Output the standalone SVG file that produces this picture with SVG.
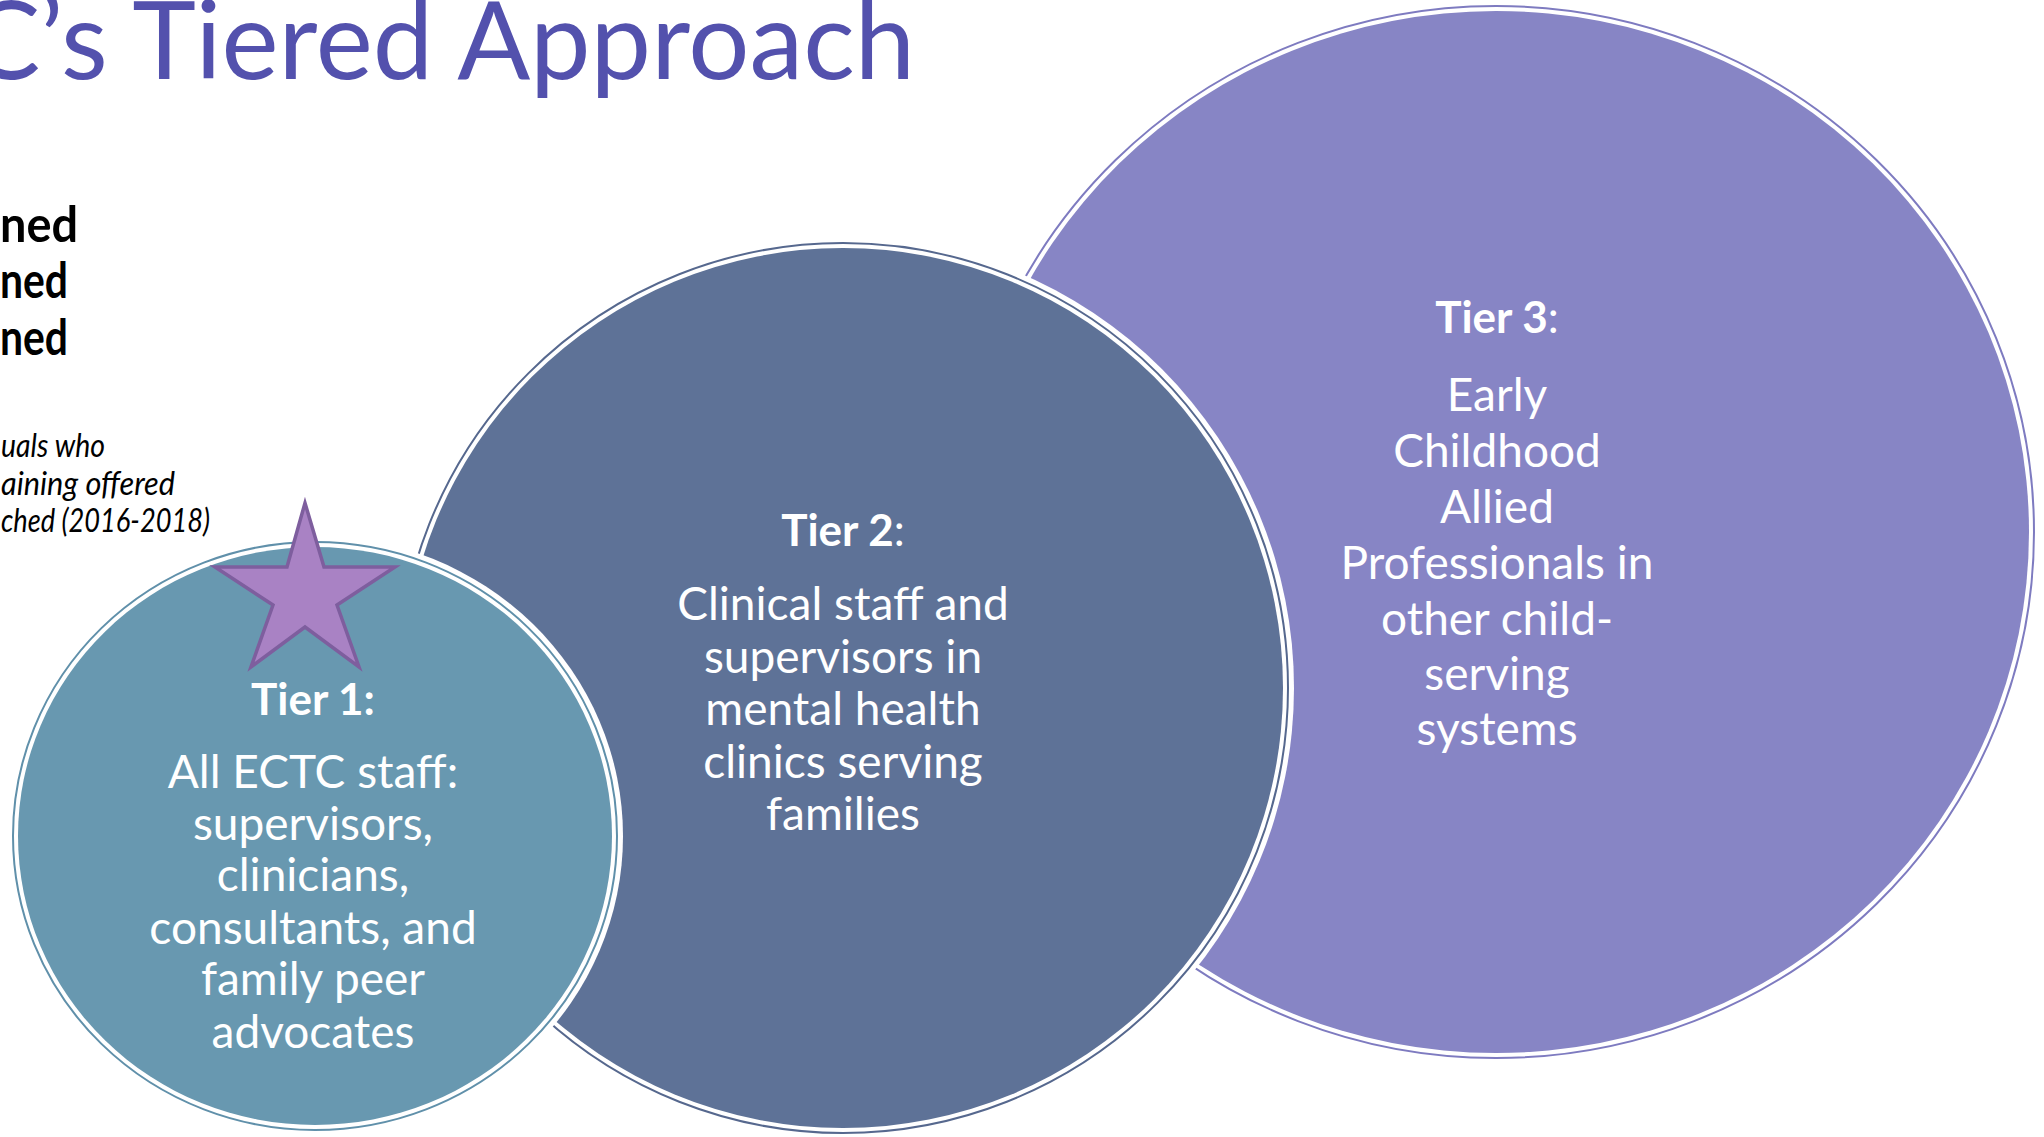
<svg xmlns="http://www.w3.org/2000/svg" width="2044" height="1137" viewBox="0 0 2044 1137">
  <style>
    .body { font-family: Lato, "Open Sans", sans-serif; font-size: 46px; fill: #ffffff; text-anchor: middle; }
    .lbl { font-family: Lato, "Open Sans", sans-serif; font-size: 44px; fill: #ffffff; text-anchor: middle; font-weight: bold; }
    .reg { font-weight: normal; }
    .halo { fill: #ffffff; }
    .title { font-family: Lato, "Open Sans", sans-serif; font-size: 108px; fill: #5351AD; text-anchor: end; }
    .side { font-family: Lato, "Open Sans", sans-serif; font-size: 50px; font-weight: bold; fill: #000000; }
    .note { font-family: Lato, "Open Sans", sans-serif; font-size: 33px; font-style: italic; fill: #000000; }
  </style>
  <rect width="2044" height="1137" fill="#ffffff"/>

  <text class="title" x="915" y="79">C’s Tiered Approach</text>

  <text class="side" x="0" y="242" textLength="78" lengthAdjust="spacingAndGlyphs">ned</text>
  <text class="side" x="0" y="298" textLength="68" lengthAdjust="spacingAndGlyphs">ned</text>
  <text class="side" x="0" y="355" textLength="68" lengthAdjust="spacingAndGlyphs">ned</text>

  <text class="note" x="1" y="457" textLength="104" lengthAdjust="spacingAndGlyphs">uals who</text>
  <text class="note" x="1" y="495" textLength="174" lengthAdjust="spacingAndGlyphs">aining offered</text>
  <text class="note" x="1" y="532" textLength="209" lengthAdjust="spacingAndGlyphs">ched (2016-2018)</text>

  <g id="tier3">
    <ellipse class="halo" cx="1496" cy="532" rx="544" ry="532"/>
    <ellipse cx="1496" cy="532" rx="538" ry="526" fill="none" stroke="#7E7BC0" stroke-width="2"/>
    <ellipse cx="1496" cy="532" rx="533" ry="521" fill="#8785C5"/>
    <text class="lbl" x="1497" y="333">Tier 3<tspan class="reg">:</tspan></text>
    <text class="body" x="1497" y="411">Early</text>
    <text class="body" x="1497" y="467">Childhood</text>
    <text class="body" x="1497" y="523">Allied</text>
    <text class="body" x="1497" y="579">Professionals in</text>
    <text class="body" x="1497" y="635">other child-</text>
    <text class="body" x="1497" y="690">serving</text>
    <text class="body" x="1497" y="745">systems</text>
  </g>

  <g id="tier2">
    <ellipse class="halo" cx="843" cy="688" rx="451" ry="451"/>
    <ellipse cx="843" cy="688" rx="445" ry="445" fill="none" stroke="#56688E" stroke-width="2"/>
    <ellipse cx="843" cy="688" rx="440" ry="440" fill="#5E7297"/>
    <text class="lbl" x="843" y="546">Tier 2<tspan class="reg">:</tspan></text>
    <text class="body" x="843" y="620">Clinical staff and</text>
    <text class="body" x="843" y="673">supervisors in</text>
    <text class="body" x="843" y="725">mental health</text>
    <text class="body" x="843" y="778">clinics serving</text>
    <text class="body" x="843" y="830">families</text>
  </g>

  <g id="tier1">
    <ellipse class="halo" cx="315" cy="836" rx="308" ry="300"/>
    <ellipse cx="315" cy="836" rx="302" ry="294" fill="none" stroke="#6090AA" stroke-width="2"/>
    <ellipse cx="315" cy="836" rx="297" ry="289" fill="#6898B0"/>
    <text class="lbl" x="313" y="715">Tier 1:</text>
    <text class="body" x="313" y="788">All ECTC staff:</text>
    <text class="body" x="313" y="840">supervisors,</text>
    <text class="body" x="313" y="891">clinicians,</text>
    <text class="body" x="313" y="944">consultants, and</text>
    <text class="body" x="313" y="995">family peer</text>
    <text class="body" x="313" y="1048">advocates</text>
  </g>

  <g id="star">
    <polygon points="305,503 324,567 395,567 337,605 359,667 305,627 251,667 273,605 215,567 287,567" fill="#A982C4" stroke="#7E5E9E" stroke-width="3.5" stroke-linejoin="miter"/>
  </g>

  <g id="connectors"></g>
</svg>
